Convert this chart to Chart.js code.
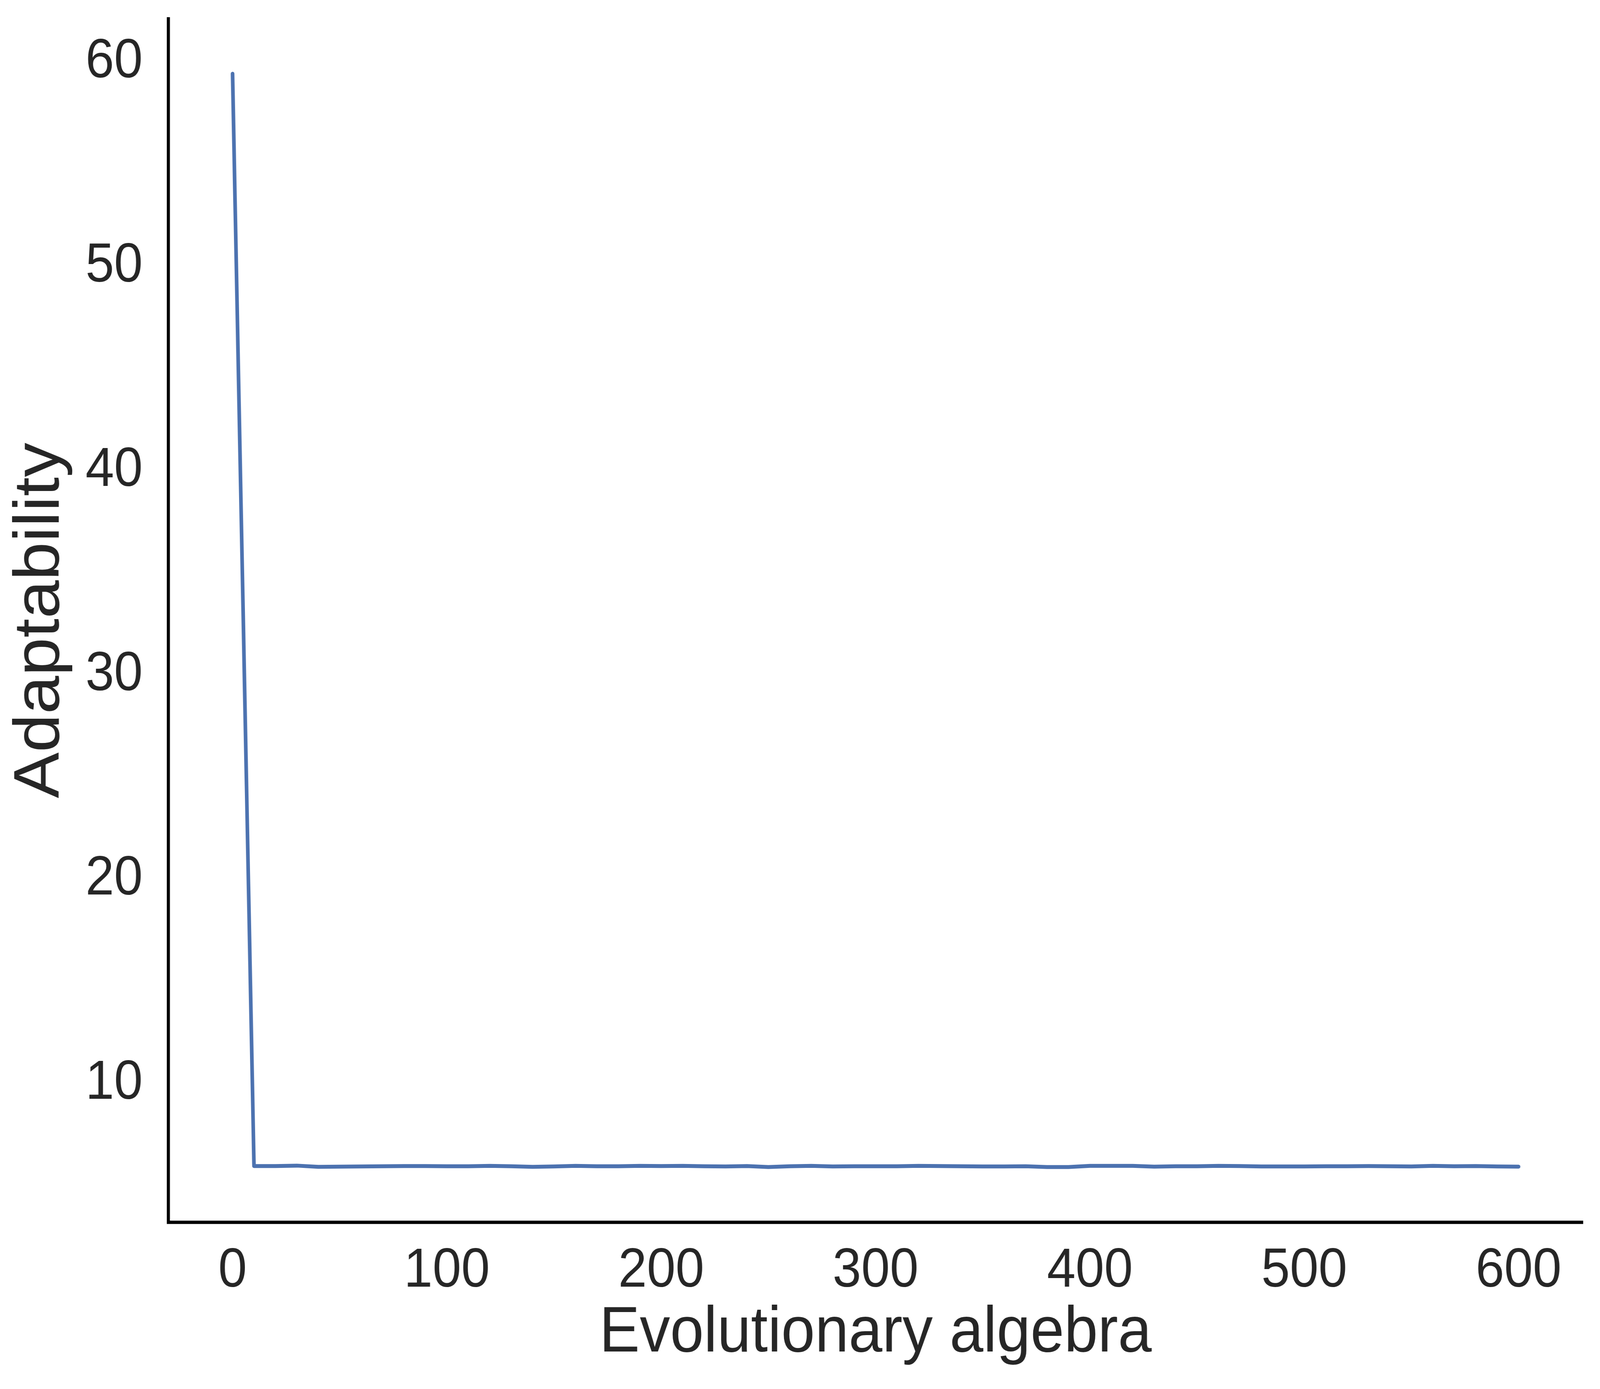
<!DOCTYPE html>
<html>
<head>
<meta charset="utf-8">
<title>Adaptability</title>
<script src="https://cdn.jsdelivr.net/npm/chart.js@4.4.1/dist/chart.umd.min.js"></script>
<style>
  html, body { margin: 0; padding: 0; background: #ffffff; overflow: hidden; }
  canvas { display: block; }
</style>
</head>
<body>
<canvas id="chart" width="4384" height="3556"></canvas>
<script>
// generation number (x) and best fitness value (y)
var generations = [0, 10, 20, 30, 40, 50, 60, 70, 80, 90,
  100, 110, 120, 130, 140, 150, 160, 170, 180, 190,
  200, 210, 220, 230, 240, 250, 260, 270, 280, 290,
  300, 310, 320, 330, 340, 350, 360, 370, 380, 390,
  400, 410, 420, 430, 440, 450, 460, 470, 480, 490,
  500, 510, 520, 530, 540, 550, 560, 570, 580, 590, 600];
var adaptability = [59.43, 5.96, 5.96, 5.98, 5.92, 5.93, 5.94, 5.95, 5.96, 5.96,
  5.95, 5.95, 5.97, 5.95, 5.92, 5.94, 5.97, 5.95, 5.95, 5.97,
  5.96, 5.97, 5.95, 5.94, 5.96, 5.91, 5.95, 5.97, 5.94, 5.95,
  5.95, 5.95, 5.97, 5.96, 5.95, 5.94, 5.94, 5.95, 5.91, 5.91,
  5.97, 5.97, 5.97, 5.93, 5.95, 5.95, 5.97, 5.96, 5.94, 5.94,
  5.94, 5.95, 5.95, 5.96, 5.95, 5.94, 5.97, 5.95, 5.96, 5.94, 5.93];
var xTicks = [0, 100, 200, 300, 400, 500, 600];
var yTicks = [10, 20, 30, 40, 50, 60];

var textColor = '#262626';
var fontFamily = '"Liberation Sans", Arial, Helvetica, sans-serif';

// the chart is laid out on a 4384x3556 canvas, then shown at the window size
var canvas = document.getElementById('chart');
canvas.style.width = (window.innerWidth || 4384) + 'px';
canvas.style.height = (window.innerHeight || 3556) + 'px';

var points = [];
for (var i = 0; i < generations.length; i++) {
  points.push({ x: generations[i], y: adaptability[i] });
}

var chart = new Chart(canvas.getContext('2d'), {
  type: 'line',
  data: {
    datasets: [{
      label: 'Adaptability',
      data: points,
      borderColor: '#4C72B0',
      backgroundColor: '#4C72B0',
      borderWidth: 10,
      borderCapStyle: 'round',
      borderJoinStyle: 'round',
      pointRadius: 0,
      fill: false,
      tension: 0
    }]
  },
  options: {
    responsive: false,
    devicePixelRatio: 1,
    animation: false,
    layout: { padding: { top: 48, right: 47, left: 0, bottom: 0 } },
    plugins: {
      legend: { display: false },
      tooltip: { enabled: false }
    },
    scales: {
      x: {
        type: 'linear',
        min: -30,
        max: 630,
        afterBuildTicks: function(scale) {
          scale.ticks = xTicks.map(function(v) { return { value: v }; });
        },
        afterFit: function(scale) {
          scale.height = 427;
          scale.paddingLeft = 0;
          scale.paddingRight = 0;
        },
        grid: { display: false, drawTicks: false },
        border: { display: true, color: '#000000', width: 8.5 },
        ticks: {
          color: textColor,
          padding: 42,
          maxRotation: 0,
          font: { family: fontFamily, size: 141 }
        },
        title: {
          display: true,
          text: 'Evolutionary algebra',
          color: textColor,
          padding: { top: 0, bottom: 42 },
          font: { family: fontFamily, size: 166 }
        }
      },
      y: {
        type: 'linear',
        min: 3.21,
        max: 62.12,
        afterBuildTicks: function(scale) {
          scale.ticks = yTicks.map(function(v) { return { value: v }; });
        },
        afterFit: function(scale) {
          scale.width = 461;
          scale.paddingTop = 0;
          scale.paddingBottom = 0;
        },
        grid: { display: false, drawTicks: false },
        border: { display: true, color: '#000000', width: 8.5 },
        ticks: {
          color: textColor,
          padding: 70,
          font: { family: fontFamily, size: 141 }
        },
        title: {
          display: true,
          text: 'Adaptability',
          color: textColor,
          padding: { top: 7, bottom: 0 },
          font: { family: fontFamily, size: 176 }
        }
      }
    }
  }
});
</script>
</body>
</html>
